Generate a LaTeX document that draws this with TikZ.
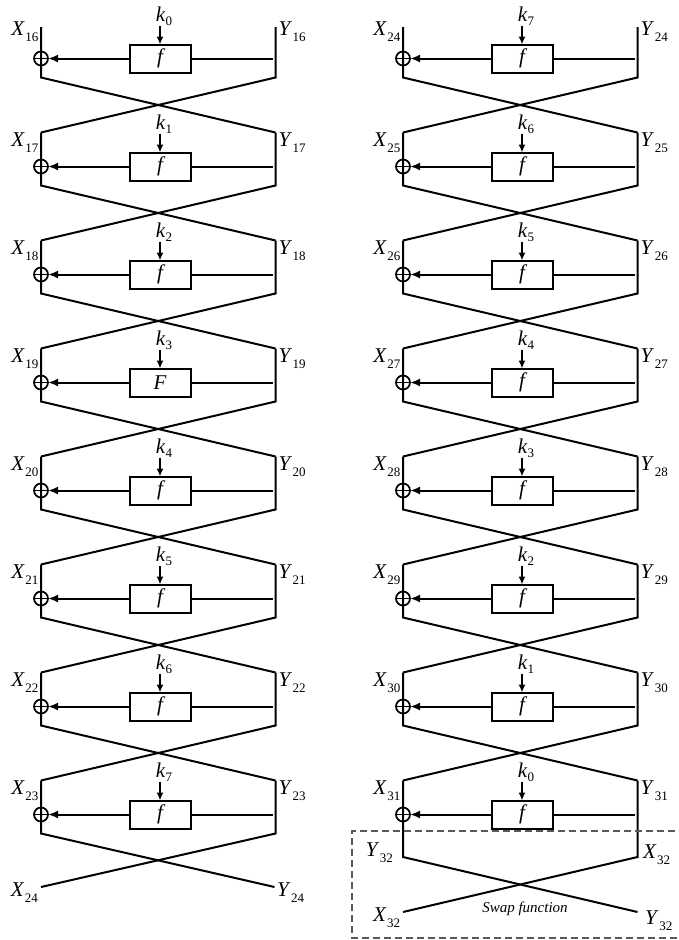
\documentclass[tikz,border=0pt]{standalone}
\usepackage{fontspec}
\setmainfont{Liberation Serif}
\usetikzlibrary{arrows.meta}
\newcommand\vlab[2]{\textit{#1}\kern0.5pt\raisebox{-6pt}{\fontsize{13}{13}\selectfont #2}}
\newcommand\klab[1]{\textit{k}\raisebox{-4pt}{\fontsize{13}{13}\selectfont #1}}
\begin{document}
\begin{tikzpicture}[x=1pt,y=-1pt,
  wire/.style={line width=2pt, line join=miter},
  fbox/.style={draw, line width=2pt, minimum width=61pt, minimum height=28pt, inner sep=0pt, outer sep=0pt, font=\fontsize{21}{21}\selectfont\itshape},
  xorn/.style={draw, circle, line width=1.7pt, minimum size=14pt, inner sep=0pt, outer sep=0pt},
  lab/.style={inner sep=0pt, font=\fontsize{21}{21}\selectfont},
  harrow/.style={-{Latex[length=10pt,width=8pt]}},
  karrow/.style={-{Latex[length=8pt,width=7pt]}},
  swapbox/.style={draw=black!65, line width=1.2pt, dash pattern=on 7pt off 4pt},
]
\useasboundingbox (0,0) rectangle (679,940);
\foreach \col/\ox/\base/\ks/\kb in {L/0/15/1/-1, R/362/23/-1/8} {
  \foreach \i in {1,...,8} {
    \pgfmathsetmacro\c{58.5+108*(\i-1)}
    \pgfmathsetmacro\tp{\c-(\i==1?31.5:34)}
    \pgfmathsetmacro\ly{\c-(\i==1?27:24)}
    \pgfmathtruncatemacro\xn{\base+\i}
    \pgfmathtruncatemacro\kn{\kb+\ks*\i}
    \pgfmathtruncatemacro\isF{(\ox==0)&&(\i==4)}
    \ifnum\isF=1 \def\ft{F}\else\def\ft{f}\fi
    \coordinate (tl\col\i) at (41+\ox, \tp);
    \coordinate (bl\col\i) at (41+\ox, \c+19);
    \coordinate (tr\col\i) at (275.5+\ox, \tp);
    \coordinate (br\col\i) at (275.5+\ox, \c+19);
    \coordinate (h\col\i) at (273+\ox, \c);
    \coordinate (k\col\i) at (160+\ox, \c-33);
    \node[fbox] (f\col\i) at (160+\ox, \c) {\ft};
    \node[xorn] (o\col\i) at (41+\ox, \c) {};
    \draw[line width=1.7pt] (o\col\i.west) -- (o\col\i.east);
    \draw[wire] (h\col\i) -- (f\col\i.east);
    \draw[wire,harrow] (f\col\i.west) -- (o\col\i.east);
    \draw[wire,karrow] (k\col\i) -- (f\col\i.north);
    \node[lab, anchor=east] (X\col\i) at (38.5+\ox, \ly) {\vlab{X}{\xn}};
    \node[lab, anchor=west] (Y\col\i) at (278.5+\ox, \ly) {\vlab{Y}{\xn}};
    \node[lab, anchor=base] (kl\col\i) at (164+\ox, \c-37) {\klab{\kn}};
  }
}
% wires between rounds
\foreach \col in {L,R} {
  \foreach \i [evaluate=\i as \j using int(\i+1)] in {1,...,7} {
    \draw[wire] (tl\col\i) -- (bl\col\i) -- (tr\col\j);
    \draw[wire] (tr\col\i) -- (br\col\i) -- (tl\col\j);
  }
}
% left column end
\coordinate (eXL) at (41, 887);
\coordinate (eYL) at (274.5, 887);
\draw[wire] (tlL8) -- (blL8) -- (eYL);
\draw[wire] (trL8) -- (brL8) -- (eXL);
\node[lab, anchor=east] (XL9) at (38, 893) {\vlab{X}{24}};
\node[lab, anchor=west] (YL9) at (277, 893) {\vlab{Y}{24}};
% right column swap
\coordinate (sl) at (403, 857);
\coordinate (sr) at (637.5, 857);
\coordinate (el) at (403, 912);
\coordinate (er) at (637.5, 912);
\draw[wire] (tlR8) -- (sl) -- (er);
\draw[wire] (trR8) -- (sr) -- (el);
\node[lab, anchor=east] (Ys1) at (393, 853) {\vlab{Y}{32}};
\node[lab, anchor=west] (Xs1) at (643, 855) {\vlab{X}{32}};
\node[lab, anchor=west] (Xs2) at (373, 918) {\vlab{X}{32}};
\node[lab, anchor=west] (Ys2) at (645, 921) {\vlab{Y}{32}};
\node[inner sep=0pt, font=\fontsize{15}{15}\selectfont\itshape] (swp) at (525, 909) {Swap function};
\draw[swapbox] (686,831) -- (352,831) -- (352,938) -- (686,938);
\end{tikzpicture}
\end{document}
